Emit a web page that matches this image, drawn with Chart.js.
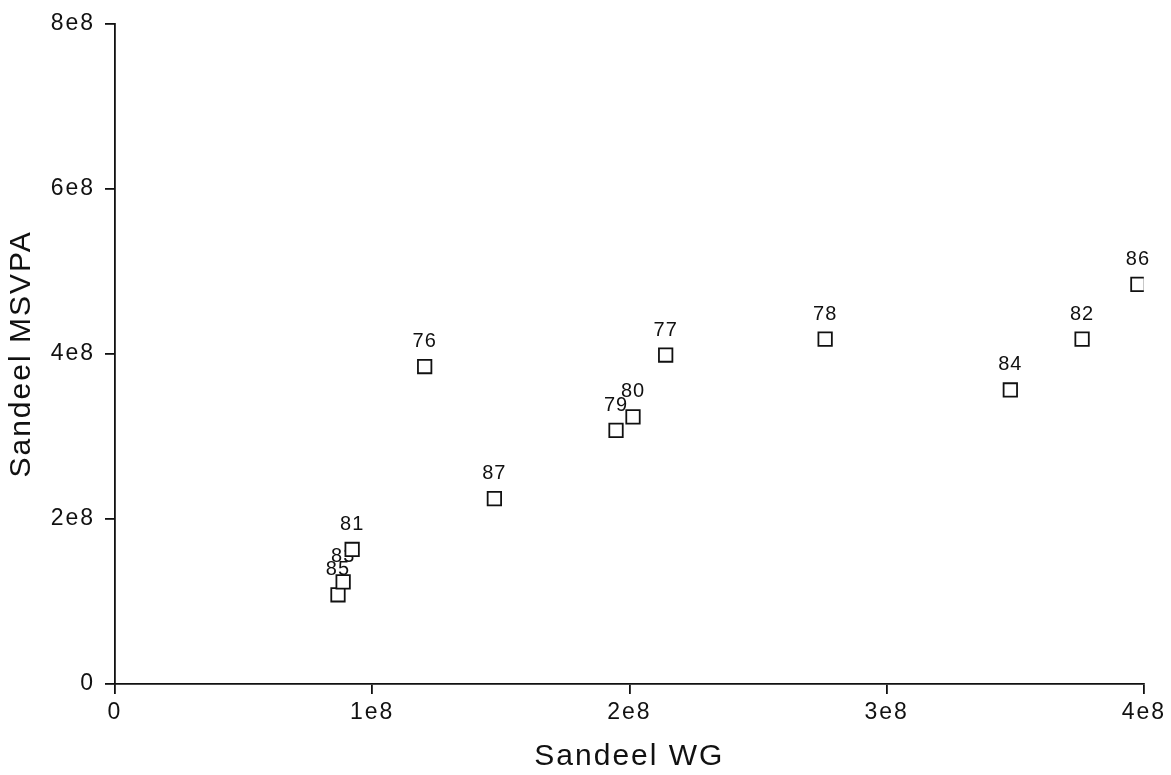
<!DOCTYPE html>
<html>
<head>
<meta charset="utf-8">
<script src="https://cdn.jsdelivr.net/npm/chart.js@4"></script>
<style>
  html, body { margin: 0; padding: 0; background: #fff; }
  #wrap { width: 1171px; height: 775px; }
</style>
</head>
<body>
<div id="wrap"><canvas id="chart"></canvas></div>
<script>
const years = ['85', '83', '81', '76', '87', '79', '80', '77', '78', '84', '82', '86'];
const wg = [0.867e8, 0.887e8, 0.922e8, 1.204e8, 1.475e8, 1.948e8, 2.014e8, 2.141e8, 2.761e8, 3.481e8, 3.760e8, 3.977e8];
const msvpa = [1.081e8, 1.238e8, 1.630e8, 3.847e8, 2.246e8, 3.074e8, 3.237e8, 3.986e8, 4.179e8, 3.563e8, 4.179e8, 4.843e8];

const font = '"Liberation Sans", Arial, Helvetica, sans-serif';

// e-notation like the original plot: 0, 1e8, 2e8 ...
const fmt = v => v === 0 ? '0' : (v / 1e8) + 'e8';

// wide lettering of the old plotter font
const spacing = {
  id: 'spacing',
  beforeLayout(chart) { chart.ctx.letterSpacing = '2px'; },
  beforeDraw(chart) { chart.ctx.letterSpacing = '2px'; }
};

// year labels sit above each square, drawn under the markers
const yearLabels = {
  id: 'yearLabels',
  beforeDatasetsDraw(chart) {
    const ctx = chart.ctx;
    const meta = chart.getDatasetMeta(0);
    ctx.save();
    ctx.font = '20px ' + font;
    ctx.letterSpacing = '1px';
    ctx.fillStyle = '#111';
    ctx.textAlign = 'center';
    ctx.textBaseline = 'middle';
    meta.data.forEach((pt, i) => {
      ctx.fillText(years[i], pt.x, pt.y - 25);
    });
    ctx.restore();
  }
};

new Chart(document.getElementById('chart'), {
  type: 'scatter',
  data: {
    datasets: [{
      data: wg.map((x, i) => ({ x, y: msvpa[i] })),
      pointStyle: 'rect',
      pointRadius: 9.5,
      pointHoverRadius: 9.5,
      pointBorderWidth: 1.8,
      pointBorderColor: '#111',
      pointBackgroundColor: '#fff'
    }]
  },
  options: {
    responsive: true,
    maintainAspectRatio: false,
    animation: false,
    layout: { padding: { top: 21, right: 15, bottom: 0, left: 0 } },
    plugins: {
      legend: { display: false },
      tooltip: { enabled: false }
    },
    scales: {
      x: {
        type: 'linear',
        min: 0,
        max: 4e8,
        afterFit: s => { s.height = 91; },
        border: { display: true, color: '#111', width: 1.8 },
        grid: { display: true, drawOnChartArea: false, drawTicks: true, tickLength: 10, color: '#111', lineWidth: 1.8 },
        ticks: {
          stepSize: 1e8,
          padding: 5,
          maxRotation: 0,
          color: '#111',
          font: { family: font, size: 23 },
          callback: fmt
        },
        title: {
          display: true,
          text: 'Sandeel WG',
          color: '#111',
          font: { family: font, size: 30 },
          padding: { top: 0, bottom: 0 }
        }
      },
      y: {
        type: 'linear',
        min: 0,
        max: 8e8,
        afterFit: s => { s.width = 115; },
        border: { display: true, color: '#111', width: 1.8 },
        grid: { display: true, drawOnChartArea: false, drawTicks: true, tickLength: 10, color: '#111', lineWidth: 1.8 },
        ticks: {
          stepSize: 2e8,
          padding: 10,
          color: '#111',
          font: { family: font, size: 23 },
          callback: fmt
        },
        title: {
          display: true,
          text: 'Sandeel MSVPA',
          color: '#111',
          font: { family: font, size: 30 },
          padding: { top: 4, bottom: 0 }
        }
      }
    }
  },
  plugins: [spacing, yearLabels]
});
</script>
</body>
</html>
